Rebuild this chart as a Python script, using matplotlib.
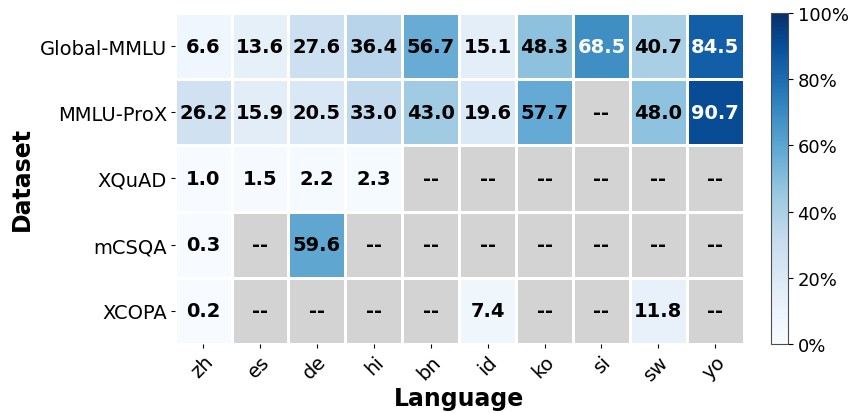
import numpy as np
import matplotlib
matplotlib.use("Agg")
import matplotlib.pyplot as plt
from matplotlib.colors import ListedColormap
from matplotlib.ticker import FuncFormatter

datasets = ["Global-MMLU", "MMLU-ProX", "XQuAD", "mCSQA", "XCOPA"]
languages = ["zh", "es", "de", "hi", "bn", "id", "ko", "si", "sw", "yo"]

# percentages per dataset row; NaN = language not covered
global_mmlu = [6.6, 13.6, 27.6, 36.4, 56.7, 15.1, 48.3, 68.5, 40.7, 84.5]
mmlu_prox = [26.2, 15.9, 20.5, 33.0, 43.0, 19.6, 57.7, np.nan, 48.0, 90.7]
xquad = [1.0, 1.5, 2.2, 2.3] + [np.nan] * 6
mcsqa = [0.3, np.nan, 59.6] + [np.nan] * 7
xcopa = [0.2, np.nan, np.nan, np.nan, np.nan, 7.4, np.nan, np.nan, 11.8, np.nan]

values = np.ma.masked_invalid(np.array([global_mmlu, mmlu_prox, xquad, mcsqa, xcopa]))

# Blues, stretched so the low end stays closer to white
cmap = ListedColormap(plt.get_cmap("Blues")(np.linspace(0, 1, 256) ** 1.2))
cmap.set_bad("lightgray")

fig = plt.figure(figsize=(8.48, 4.14), dpi=100)
ax = fig.add_axes([0.206, 0.167, 0.671, 0.799])
cax = fig.add_axes([0.909, 0.167, 0.020, 0.799])

mesh = ax.pcolormesh(values, cmap=cmap, vmin=0, vmax=100,
                     edgecolors="white", linewidth=1.0)
ax.set_xlim(0, len(languages))
ax.set_ylim(len(datasets), 0)
for s in ax.spines.values():
    s.set_visible(False)

for i in range(len(datasets)):
    for j in range(len(languages)):
        v = values[i, j]
        if np.ma.is_masked(v):
            txt, col = "--", "black"
        else:
            txt, col = f"{v:.1f}", ("white" if v > 60 else "black")
        ax.text(j + 0.5, i + 0.5, txt, ha="center", va="center",
                fontsize=14, fontweight="bold", color=col)

ax.set_xticks(np.arange(len(languages)) + 0.5)
ax.set_xticklabels(languages, rotation=45, ha="right", rotation_mode="anchor", fontsize=14)
ax.set_yticks(np.arange(len(datasets)) + 0.5)
ax.set_yticklabels(datasets, fontsize=14)
ax.tick_params(length=3, pad=2.5)
ax.set_xlabel("Language", fontsize=17, fontweight="bold", labelpad=2)
ax.set_ylabel("Dataset", fontsize=17, fontweight="bold")

cb = fig.colorbar(mesh, cax=cax)
cb.set_ticks([0, 20, 40, 60, 80, 100])
cb.ax.yaxis.set_major_formatter(FuncFormatter(lambda x, _: f"{x:.0f}%"))
cb.ax.tick_params(labelsize=13)
cb.outline.set_edgecolor("0.3")

fig.savefig("out.png", dpi=100)
